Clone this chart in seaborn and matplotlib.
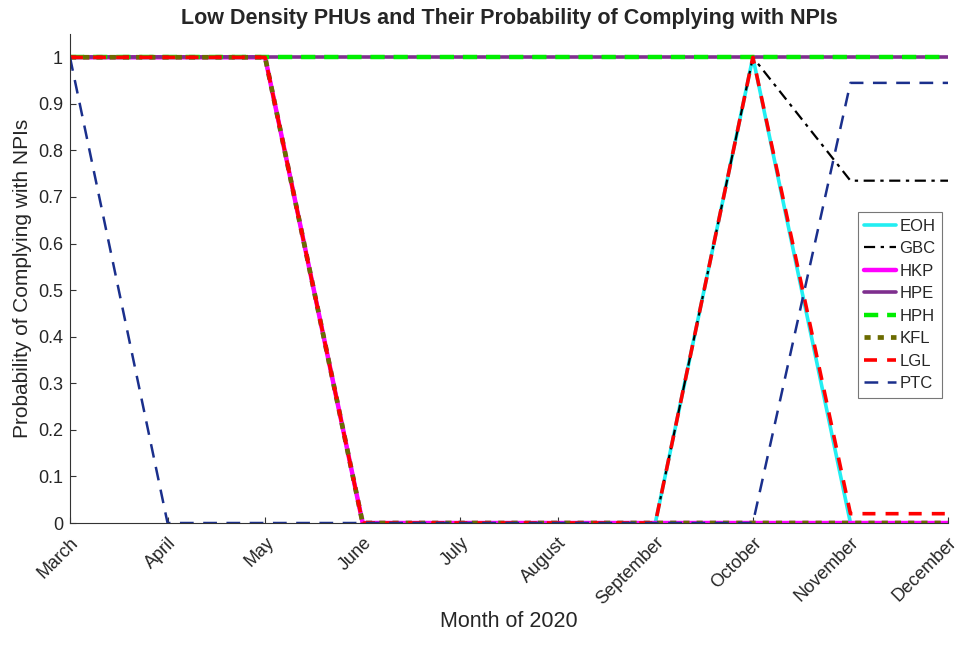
import matplotlib
matplotlib.use("Agg")
import matplotlib.pyplot as plt
import seaborn as sns
import numpy as np
import pandas as pd

months = ["March", "April", "May", "June", "July", "August",
          "September", "October", "November", "December"]
EOH = [1, 1, 1, 0, 0, 0, 0, 1, 0, 0]
GBC = [1, 1, 1, 0, 0, 0, 0, 1, 0.735, 0.735]
HKP = [1, 1, 1, 0, 0, 0, 0, 0, 0, 0]
HPE = [1, 1, 1, 1, 1, 1, 1, 1, 1, 1]
HPH = [1, 1, 1, 1, 1, 1, 1, 1, 1, 1]
KFL = [1, 1, 1, 0, 0, 0, 0, 0, 0, 0]
LGL = [1, 1, 1, 0, 0, 0, 0, 1, 0.02, 0.02]
PTC = [1, 0, 0, 0, 0, 0, 0, 0, 0.945, 0.945]

series = [
    ("EOH", EOH, "#22eef2", 2.6, None),
    ("GBC", GBC, "#000000", 1.6, (0, (5, 2.5, 1.5, 2.5))),
    ("HKP", HKP, "#ff00ff", 3.2, None),
    ("HPE", HPE, "#7e2f8e", 2.6, None),
    ("HPH", HPH, "#00ee00", 3.2, (0, (3.2, 2.0))),
    ("KFL", KFL, "#6b6b00", 3.4, (0, (1.3, 1.5))),
    ("LGL", LGL, "#ff0000", 2.6, (0, (3.6, 2.8))),
    ("PTC", PTC, "#1a2f8c", 1.8, (0, (5.5, 3.8))),
]

sns.set_style("white")
plt.rcParams['font.family'] = ['Liberation Sans', 'DejaVu Sans']

fig = plt.figure(figsize=(9.64, 6.46), dpi=100)
ax = fig.add_axes([0.0726, 0.1904, 0.9108, 0.757])

x = np.arange(len(months))
for name, vals, color, lw, dash in series:
    df = pd.DataFrame({"x": x, "y": vals})
    sns.lineplot(data=df, x="x", y="y", ax=ax, color=color, linewidth=lw,
                 linestyle="-" if dash is None else dash, label=name)

ax.set_xlim(0, len(months) - 1)
ax.set_ylim(0, 1.05)
ax.set_xticks(x)
ax.set_xticklabels(months, rotation=45, ha="right", rotation_mode="anchor", fontsize=13)
yt = np.round(np.arange(0, 1.01, 0.1), 1)
ax.set_yticks(yt)
ax.set_yticklabels(["0"] + [f"{v:g}" for v in yt[1:]], fontsize=13)
ax.tick_params(axis="both", direction="in", length=4, width=0.8, color="#333333",
               left=True, bottom=True, pad=5)
ax.tick_params(axis="x", pad=8)
for s in ["top", "right"]:
    ax.spines[s].set_visible(False)
for s in ["left", "bottom"]:
    ax.spines[s].set_color("#333333")
    ax.spines[s].set_linewidth(0.8)

ax.set_xlabel("Month of 2020", fontsize=15.5, labelpad=2)
ax.set_ylabel("Probability of Complying with NPIs", fontsize=15, labelpad=4)
ax.set_title("Low Density PHUs and Their Probability of Complying with NPIs",
             fontsize=15.5, fontweight="bold", pad=7)

leg = ax.legend(loc="upper left", bbox_to_anchor=(0.897, 0.636), fontsize=12,
                frameon=True, fancybox=False, edgecolor="#555555",
                handlelength=1.9, handletextpad=0.2, borderpad=0.4,
                labelspacing=0.45, borderaxespad=0)
leg.get_frame().set_linewidth(0.8)

fig.savefig("out.png", dpi=100)
